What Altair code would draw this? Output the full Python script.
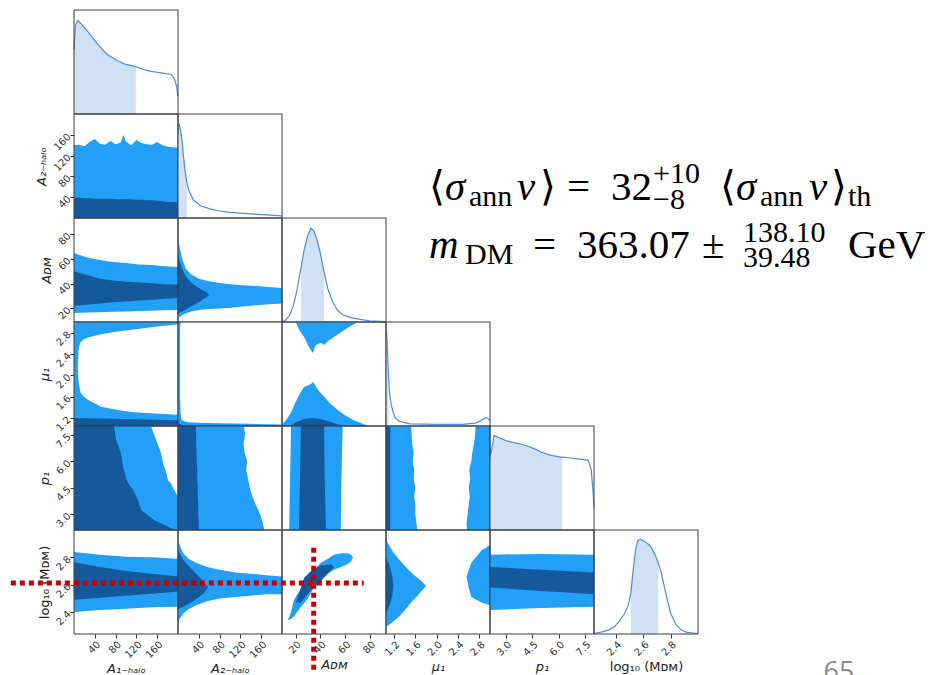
import altair as alt
import pandas as pd

PANEL = 104
LIGHT = "#22a0f8"
DARK = "#14599c"
PDF_LINE = "#4c8fdb"
PDF_FILL = "#d0e1f6"
FRAME = "#3c3c3c"
RED = "#c40000"

# ---------------- axis ranges / ticks ----------------
A1_DOMAIN = [0, 200]
A2_DOMAIN = [0, 200]
ADM_DOMAIN = [9, 93]
MU_DOMAIN = [1.05, 3.0]
P1_DOMAIN = [2.1, 8.0]
LOGM_DOMAIN = [2.24, 3.0]
A1_TICKS = [40, 80, 120, 160]
A2_TICKS = [40, 80, 120, 160]
ADM_TICKS = [20, 40, 60, 80]
MU_TICKS = [1.2, 1.6, 2.0, 2.4, 2.8]
P1_TICKS = [3.0, 4.5, 6.0, 7.5]
LOGM_TICKS = [2.4, 2.6, 2.8]

# ---------------- 1D marginals ----------------
A1_PDF_X = [0, 3, 7.7, 15, 27, 46, 62, 81, 98, 115, 119, 132, 148, 168, 187, 193, 197, 200]
A1_PDF_Y = [0.62, 0.86, 0.90, 0.86, 0.79, 0.67, 0.58, 0.52, 0.48, 0.46, 0.455, 0.43, 0.41, 0.395, 0.38, 0.34, 0.27, 0.17]
A1_BAND = [0, 119]
A2_PDF_X = [0, 1, 2.5, 5, 8, 10, 13, 17, 21, 30, 44, 60, 77, 100, 140, 170, 200]
A2_PDF_Y = [0.80, 0.91, 0.90, 0.84, 0.74, 0.62, 0.48, 0.34, 0.26, 0.17, 0.115, 0.09, 0.07, 0.055, 0.04, 0.03, 0.02]
A2_BAND = [0, 17]
ADM_PDF_X = [9, 12, 15, 18, 21, 24.3, 27, 30, 32.4, 34.5, 37, 40, 43, 46, 50, 54, 58, 65, 72, 80, 92]
ADM_PDF_Y = [0.0, 0.02, 0.06, 0.15, 0.30, 0.52, 0.70, 0.84, 0.90, 0.88, 0.80, 0.66, 0.48, 0.32, 0.19, 0.11, 0.07, 0.04, 0.025, 0.012, 0.005]
ADM_BAND = [24.3, 43]
MU_PDF_X = [1.05, 1.06, 1.08, 1.1, 1.12, 1.15, 1.18, 1.22, 1.3, 1.5, 2.0, 2.5, 2.75, 2.85, 2.92, 2.97, 3.0]
MU_PDF_Y = [0.90, 0.91, 0.70, 0.45, 0.30, 0.20, 0.14, 0.08, 0.045, 0.02, 0.015, 0.015, 0.03, 0.06, 0.08, 0.07, 0.05]
MU_BAND = [1.05, 1.1]
P1_PDF_X = [2.1, 2.16, 2.33, 2.6, 3.0, 3.46, 4.0, 4.5, 5.0, 5.5, 6.13, 6.2, 6.8, 7.3, 7.67, 7.84, 7.95, 8.0]
P1_PDF_Y = [0.70, 0.74, 0.91, 0.89, 0.86, 0.84, 0.82, 0.79, 0.75, 0.72, 0.70, 0.70, 0.69, 0.68, 0.67, 0.58, 0.36, 0.22]
P1_BAND = [2.1, 6.2]
LOGM_PDF_X = [2.24, 2.3, 2.35, 2.39, 2.43, 2.46, 2.49, 2.51, 2.525, 2.545, 2.56, 2.58, 2.61, 2.64, 2.66, 2.69, 2.71, 2.73, 2.76, 2.8, 2.84, 2.875, 2.92, 3.0]
LOGM_PDF_Y = [0.005, 0.02, 0.04, 0.07, 0.13, 0.19, 0.27, 0.40, 0.60, 0.82, 0.90, 0.91, 0.89, 0.86, 0.83, 0.75, 0.68, 0.60, 0.42, 0.20, 0.09, 0.04, 0.015, 0.005]
LOGM_BAND = [2.51, 2.71]

# ---------------- 2D credible regions ----------------
R2C1_X = [0, 10, 20, 30, 40, 50, 60, 70, 80, 90, 95, 100, 110, 120, 130, 140, 150, 160, 170, 180, 190, 200]
R2C1_LIGHT_HI = [140, 141, 138, 146, 152, 143, 141, 148, 142, 145, 160, 147, 140, 150, 144, 142, 141, 146, 140, 137, 136, 135]
R2C1_DARK_HI = [39, 39, 38, 38, 37, 37, 37, 37, 36, 36, 36, 36, 36, 35, 35, 34, 34, 33, 32, 31, 31, 30]

R3C1_X = [0, 25, 50, 75, 100, 125, 150, 175, 200]
R3C1_LIGHT_LO = [16.3, 16.6, 16.9, 17.2, 17.5, 17.8, 18.1, 18.4, 18.7]
R3C1_LIGHT_HI = [64.7, 61.0, 59.0, 57.5, 56.7, 55.5, 55.0, 54.0, 53.4]
R3C1_DARK_LO = [22.0, 23.0, 24.0, 25.0, 25.5, 26.3, 27.0, 27.8, 28.4]
R3C1_DARK_HI = [50.0, 47.0, 44.0, 42.5, 41.5, 41.0, 40.3, 39.5, 39.0]

R3C2_X = [0, 3, 8, 15, 25, 40, 60, 80, 100, 125, 150, 175, 200]
R3C2_LIGHT_LO = [12.0, 13.0, 14.5, 16.0, 17.5, 18.7, 19.5, 20.0, 20.5, 21.5, 22.5, 23.3, 24.0]
R3C2_LIGHT_HI = [78.0, 70.0, 60.0, 52.0, 47.5, 44.0, 42.0, 40.5, 39.5, 38.7, 38.0, 37.3, 36.5]
R3C2_DARK_X = [0, 3, 8, 15, 25, 40, 55, 60]
R3C2_DARK_LO = [16.0, 16.5, 17.5, 19.0, 21.5, 25.0, 29.0, 31.0]
R3C2_DARK_HI = [64.0, 58.0, 52.0, 46.0, 41.0, 36.5, 33.0, 31.0]

R4C1_HOLE_X = [7.5, 8.5, 10, 13, 19, 27, 52, 84, 115, 148, 200]
R4C1_HOLE_LO = [2.15, 1.9, 1.8, 1.67, 1.6, 1.54, 1.41, 1.35, 1.31, 1.29, 1.26]
R4C1_HOLE_HI = [2.2, 2.45, 2.55, 2.62, 2.67, 2.71, 2.77, 2.82, 2.86, 2.9, 2.96]
R4C1_DARK_X = [0, 100, 200]
R4C1_DARK_HI = [1.2, 1.18, 1.16]

R4C2_HOLE_X = [4, 5, 6, 8, 12, 20, 40, 80, 140, 200]
R4C2_HOLE_LO = [1.6, 1.3, 1.2, 1.16, 1.14, 1.12, 1.11, 1.1, 1.09, 1.08]
R4C2_HOLE_HI = [2.9, 2.97, 3.0, 3.0, 3.0, 3.0, 3.0, 3.0, 3.0, 3.0]
R4C2_DARK_X = [0, 3, 8, 15]
R4C2_DARK_HI = [1.1, 1.09, 1.07, 1.06]

R4C3_TOP_X = [20, 23, 26.8, 30.8, 33, 34, 35, 36.5, 40.5, 43, 47, 56.7, 64, 71]
R4C3_TOP_LO = [3.0, 2.85, 2.72, 2.53, 2.45, 2.42, 2.5, 2.57, 2.61, 2.57, 2.66, 2.81, 2.92, 3.0]
R4C3_BOT_X = [9, 12, 16, 20, 24.3, 26.8, 30.8, 32.5, 34, 36, 38, 43, 48, 54, 60, 67, 73, 78]
R4C3_BOT_HI = [1.08, 1.15, 1.29, 1.5, 1.69, 1.78, 1.82, 1.84, 1.88, 1.8, 1.73, 1.6, 1.47, 1.35, 1.25, 1.16, 1.1, 1.06]
R4C3_DARK_X = [16, 20, 26, 32.4, 40, 48, 56.7]
R4C3_DARK_HI = [1.06, 1.12, 1.17, 1.2, 1.18, 1.13, 1.06]

R5C1_Y = [2.1, 2.2, 2.67, 3.24, 3.8, 4.0, 4.4, 4.77, 4.9, 5.5, 5.7, 6.5, 7.2, 8.0]
R5C1_LIGHT_HI = [200, 200, 200, 200, 200, 200, 192, 186, 181, 176, 173, 167, 158, 148]
R5C1_DARK_HI = [192, 187, 154, 129, 123, 120, 113, 104, 102, 96, 94, 90, 81, 77]

R5C2_Y = [2.1, 2.5, 3.0, 3.5, 4.0, 4.5, 5.0, 5.5, 6.0, 6.5, 7.0, 7.5, 8.0]
R5C2_LIGHT_HI = [166, 163, 158, 150, 143, 138, 135, 131, 133, 128, 126, 129, 127]
R5C2_DARK_HI = [40, 40, 39, 39, 38, 38, 37, 37, 36, 36, 35, 35, 34]

R5C3_Y = [2.1, 5.0, 8.0]
R5C3_LIGHT_LO = [14.8, 15.5, 16.3]
R5C3_LIGHT_HI = [56.5, 57.0, 58.0]
R5C3_DARK_LO = [22.7, 23.5, 24.3]
R5C3_DARK_HI = [44.5, 43.5, 43.0]

R5C4_Y = [2.1, 2.5, 3.0, 3.5, 4.0, 4.5, 5.0, 5.5, 6.0, 6.5, 7.0, 7.5, 8.0]
R5C4_LEFT_HI = [1.64, 1.62, 1.60, 1.60, 1.58, 1.60, 1.57, 1.58, 1.55, 1.57, 1.54, 1.53, 1.52]
R5C4_DARK_HI = [1.13, 1.13, 1.13, 1.13, 1.13, 1.13, 1.13, 1.13, 1.13, 1.13, 1.13, 1.13, 1.13]
R5C4_RIGHT_LO = [2.57, 2.56, 2.58, 2.60, 2.62, 2.60, 2.63, 2.61, 2.65, 2.67, 2.70, 2.72, 2.73]

R6C1_X = [0, 50, 100, 150, 200]
R6C1_LIGHT_LO = [2.40, 2.415, 2.425, 2.435, 2.44]
R6C1_LIGHT_HI = [2.84, 2.82, 2.805, 2.80, 2.79]
R6C1_DARK_LO = [2.49, 2.505, 2.52, 2.535, 2.55]
R6C1_DARK_HI = [2.765, 2.73, 2.70, 2.68, 2.66]

R6C2_X = [0, 5, 10, 20, 35, 56, 80, 110, 140, 170, 200]
R6C2_LIGHT_LO = [2.33, 2.36, 2.39, 2.42, 2.45, 2.48, 2.50, 2.51, 2.52, 2.53, 2.53]
R6C2_LIGHT_HI = [2.93, 2.87, 2.83, 2.79, 2.76, 2.73, 2.71, 2.69, 2.68, 2.67, 2.66]
R6C2_DARK_X = [0, 10, 25, 40, 50, 58]
R6C2_DARK_LO = [2.42, 2.44, 2.47, 2.51, 2.54, 2.58]
R6C2_DARK_HI = [2.85, 2.78, 2.72, 2.66, 2.62, 2.58]

R6C3_X = [13.8, 16.3, 18.7, 24.3, 30, 34.8, 40.5, 46, 51, 56.7, 62, 64.7, 66.4]
R6C3_LIGHT_LO = [2.34, 2.35, 2.37, 2.44, 2.50, 2.58, 2.63, 2.68, 2.71, 2.73, 2.75, 2.77, 2.80]
R6C3_LIGHT_HI = [2.34, 2.40, 2.49, 2.57, 2.66, 2.71, 2.76, 2.79, 2.82, 2.83, 2.83, 2.82, 2.80]
R6C3_DARK_X = [20.3, 24.3, 26.8, 32.4, 38, 40.5, 48.6, 51]
R6C3_DARK_LO = [2.47, 2.47, 2.50, 2.56, 2.61, 2.63, 2.71, 2.73]
R6C3_DARK_HI = [2.47, 2.58, 2.65, 2.70, 2.73, 2.74, 2.75, 2.73]

R6C4_LEFT_Y = [2.29, 2.36, 2.42, 2.47, 2.51, 2.55, 2.59, 2.63, 2.67, 2.71, 2.77, 2.83, 2.88, 2.93]
R6C4_LEFT_HI = [1.05, 1.28, 1.42, 1.52, 1.62, 1.71, 1.80, 1.71, 1.58, 1.47, 1.33, 1.20, 1.12, 1.05]
R6C4_DARK_Y = [2.39, 2.45, 2.52, 2.60, 2.68, 2.75, 2.80]
R6C4_DARK_HI = [1.05, 1.12, 1.17, 1.19, 1.16, 1.11, 1.05]
R6C4_RIGHT_Y = [2.45, 2.47, 2.51, 2.58, 2.66, 2.76, 2.85, 2.89]
R6C4_RIGHT_LO = [3.0, 2.84, 2.65, 2.60, 2.56, 2.65, 2.84, 3.0]

R6C5_X = [2.1, 5.0, 8.0]
R6C5_LIGHT_LO = [2.415, 2.43, 2.44]
R6C5_LIGHT_HI = [2.82, 2.825, 2.82]
R6C5_DARK_LO = [2.58, 2.555, 2.53]
R6C5_DARK_HI = [2.73, 2.71, 2.69]

# best-fit marker (dotted red cross)
MARK_LOGM = 2.612
MARK_ADM = 34.6
RED_H_SPAN = [-210, 75]      # in A_DM units
RED_V_SPAN = [2.87, 1.96]    # in log10 M units

# ---------------- helpers ----------------
DOM = {"A1": A1_DOMAIN, "A2": A2_DOMAIN, "ADM": ADM_DOMAIN, "MU": MU_DOMAIN,
       "P1": P1_DOMAIN, "LOGM": LOGM_DOMAIN, "PDF": [0, 1.0]}
TICKS = {"A1": A1_TICKS, "A2": A2_TICKS, "ADM": ADM_TICKS, "MU": MU_TICKS,
         "P1": P1_TICKS, "LOGM": LOGM_TICKS}
FMT = {"A1": "d", "A2": "d", "ADM": "d", "MU": ".1f", "P1": ".1f", "LOGM": ".1f"}
TITLE = {"A1": "A₁₋ₕₐₗₒ", "A2": "A₂₋ₕₐₗₒ", "ADM": "Aᴅᴍ", "MU": "μ₁",
         "P1": "p₁", "LOGM": "log₁₀ (Mᴅᴍ)"}


def make_axis(v):
    return alt.Axis(title=TITLE[v], values=TICKS[v], format=FMT[v], labelAngle=-45,
                    grid=False, domain=False, tickSize=4, tickColor="#333333",
                    labelFont="DejaVu Sans", labelFontSize=10, labelColor="#333333",
                    labelPadding=1, titleFont="DejaVu Sans", titleFontSize=13,
                    titleFontWeight="normal", titlePadding=3,
                    titleFontStyle="normal" if v == "LOGM" else "italic",
                    titleColor="#222222")


AX = {v: make_axis(v) for v in TICKS}
ONE = pd.DataFrame({"k": [0]})


def sc(v):
    return alt.Scale(domain=DOM[v], nice=False, zero=False)


def xf(p, field):
    xv, yv, sx, sy = p
    return alt.X(field, type="quantitative", scale=sc(xv), axis=AX[xv] if sx else None)


def yf(p, field):
    xv, yv, sx, sy = p
    return alt.Y(field, type="quantitative", scale=sc(yv), axis=AX[yv] if sy else None)


def xd(p, val):
    xv, yv, sx, sy = p
    return alt.XDatum(val, type="quantitative", scale=sc(xv), axis=AX[xv] if sx else None)


def yd(p, val):
    xv, yv, sx, sy = p
    return alt.YDatum(val, type="quantitative", scale=sc(yv), axis=AX[yv] if sy else None)


def vband(p, xs, lo, hi, color):
    data = {"t": xs}
    if isinstance(hi, list):
        data["hi"] = hi
        main = "hi"
        other = alt.Y2("lo") if isinstance(lo, list) else alt.Y2Datum(lo)
        if isinstance(lo, list):
            data["lo"] = lo
    else:
        data["lo"] = lo
        main = "lo"
        other = alt.Y2Datum(hi)
    return alt.Chart(pd.DataFrame(data)).mark_area(color=color, opacity=1).encode(
        x=xf(p, "t"), y=yf(p, main), y2=other)


def hband(p, ys, lo, hi, color):
    data = {"t": ys}
    if isinstance(hi, list):
        data["hi"] = hi
        main = "hi"
        other = alt.X2("lo") if isinstance(lo, list) else alt.X2Datum(lo)
        if isinstance(lo, list):
            data["lo"] = lo
    else:
        data["lo"] = lo
        main = "lo"
        other = alt.X2Datum(hi)
    return alt.Chart(pd.DataFrame(data)).mark_area(color=color, opacity=1, orient="horizontal").encode(
        y=yf(p, "t"), x=xf(p, main), x2=other)


def rect(p, **kw):
    xv, yv, sx, sy = p
    return alt.Chart(ONE).mark_rect(**kw).encode(
        x=xd(p, DOM[xv][0]), x2=alt.X2Datum(DOM[xv][1]),
        y=yd(p, DOM[yv][0]), y2=alt.Y2Datum(DOM[yv][1]))


def frame(p):
    return rect(p, fillOpacity=0, stroke=FRAME, strokeWidth=1)


def panel(layers):
    return alt.layer(*layers).properties(width=PANEL, height=PANEL)


def pdf_panel(v, xs, ys, band, showx):
    p = (v, "PDF", showx, False)
    df = pd.DataFrame({"t": xs, "d": ys})
    area = alt.Chart(df).transform_filter(
        f"datum.t >= {band[0]} && datum.t <= {band[1]}"
    ).mark_area(color=PDF_FILL, opacity=1).encode(x=xf(p, "t"), y=yf(p, "d"), y2=alt.Y2Datum(0))
    line = alt.Chart(df).mark_line(color=PDF_LINE, strokeWidth=1.2).encode(x=xf(p, "t"), y=yf(p, "d"))
    return [area, line, frame(p)]


def blank():
    return alt.Chart(ONE).mark_point(opacity=0, size=0).encode(
        x=alt.value(50), y=alt.value(50)).properties(width=PANEL, height=PANEL)


def txt(s, x, y, size, italic=False, font="Liberation Serif", color="#000000", align="left"):
    return alt.Chart(ONE).mark_text(text=s, font=font, fontSize=size,
                                    fontStyle="italic" if italic else "normal",
                                    align=align, baseline="alphabetic", color=color).encode(
        x=alt.value(x), y=alt.value(y))


# ---------------- panels ----------------
cells = {}
cells[(0, 0)] = panel(pdf_panel("A1", A1_PDF_X, A1_PDF_Y, A1_BAND, False))
cells[(1, 1)] = panel(pdf_panel("A2", A2_PDF_X, A2_PDF_Y, A2_BAND, False))
cells[(2, 2)] = panel(pdf_panel("ADM", ADM_PDF_X, ADM_PDF_Y, ADM_BAND, False))
cells[(3, 3)] = panel(pdf_panel("MU", MU_PDF_X, MU_PDF_Y, MU_BAND, False))
cells[(4, 4)] = panel(pdf_panel("P1", P1_PDF_X, P1_PDF_Y, P1_BAND, False))

p = ("A1", "A2", False, True)
cells[(1, 0)] = panel([vband(p, R2C1_X, 0, R2C1_LIGHT_HI, LIGHT),
                       vband(p, R2C1_X, 0, R2C1_DARK_HI, DARK), frame(p)])

p = ("A1", "ADM", False, True)
cells[(2, 0)] = panel([vband(p, R3C1_X, R3C1_LIGHT_LO, R3C1_LIGHT_HI, LIGHT),
                       vband(p, R3C1_X, R3C1_DARK_LO, R3C1_DARK_HI, DARK), frame(p)])
p = ("A2", "ADM", False, False)
cells[(2, 1)] = panel([vband(p, R3C2_X, R3C2_LIGHT_LO, R3C2_LIGHT_HI, LIGHT),
                       vband(p, R3C2_DARK_X, R3C2_DARK_LO, R3C2_DARK_HI, DARK), frame(p)])

p = ("A1", "MU", False, True)
cells[(3, 0)] = panel([rect(p, color=LIGHT),
                       vband(p, R4C1_HOLE_X, R4C1_HOLE_LO, R4C1_HOLE_HI, "#ffffff"),
                       vband(p, R4C1_DARK_X, 1.05, R4C1_DARK_HI, DARK), frame(p)])
p = ("A2", "MU", False, False)
cells[(3, 1)] = panel([rect(p, color=LIGHT),
                       vband(p, R4C2_HOLE_X, R4C2_HOLE_LO, R4C2_HOLE_HI, "#ffffff"),
                       vband(p, R4C2_DARK_X, 1.05, R4C2_DARK_HI, DARK), frame(p)])
p = ("ADM", "MU", False, False)
cells[(3, 2)] = panel([vband(p, R4C3_TOP_X, R4C3_TOP_LO, 3.0, LIGHT),
                       vband(p, R4C3_BOT_X, 1.05, R4C3_BOT_HI, LIGHT),
                       vband(p, R4C3_DARK_X, 1.05, R4C3_DARK_HI, DARK), frame(p)])

p = ("A1", "P1", False, True)
cells[(4, 0)] = panel([hband(p, R5C1_Y, 0, R5C1_LIGHT_HI, LIGHT),
                       hband(p, R5C1_Y, 0, R5C1_DARK_HI, DARK), frame(p)])
p = ("A2", "P1", False, False)
cells[(4, 1)] = panel([hband(p, R5C2_Y, 0, R5C2_LIGHT_HI, LIGHT),
                       hband(p, R5C2_Y, 0, R5C2_DARK_HI, DARK), frame(p)])
p = ("ADM", "P1", False, False)
cells[(4, 2)] = panel([hband(p, R5C3_Y, R5C3_LIGHT_LO, R5C3_LIGHT_HI, LIGHT),
                       hband(p, R5C3_Y, R5C3_DARK_LO, R5C3_DARK_HI, DARK), frame(p)])
p = ("MU", "P1", False, False)
cells[(4, 3)] = panel([hband(p, R5C4_Y, 1.05, R5C4_LEFT_HI, LIGHT),
                       hband(p, R5C4_Y, 1.05, R5C4_DARK_HI, DARK),
                       hband(p, R5C4_Y, R5C4_RIGHT_LO, 3.0, LIGHT), frame(p)])

p = ("A1", "LOGM", True, True)
cells[(5, 0)] = panel([vband(p, R6C1_X, R6C1_LIGHT_LO, R6C1_LIGHT_HI, LIGHT),
                       vband(p, R6C1_X, R6C1_DARK_LO, R6C1_DARK_HI, DARK), frame(p)])
p = ("A2", "LOGM", True, False)
cells[(5, 1)] = panel([vband(p, R6C2_X, R6C2_LIGHT_LO, R6C2_LIGHT_HI, LIGHT),
                       vband(p, R6C2_DARK_X, R6C2_DARK_LO, R6C2_DARK_HI, DARK), frame(p)])
p = ("ADM", "LOGM", True, False)
red_h = alt.Chart(pd.DataFrame({"a": [RED_H_SPAN[0]], "b": [RED_H_SPAN[1]], "m": [MARK_LOGM]})).mark_rule(
    color=RED, strokeWidth=5, strokeDash=[5, 4]).encode(x=xf(p, "a"), x2=alt.X2("b"), y=yf(p, "m"))
red_v = alt.Chart(pd.DataFrame({"a": [RED_V_SPAN[0]], "b": [RED_V_SPAN[1]], "m": [MARK_ADM]})).mark_rule(
    color=RED, strokeWidth=5, strokeDash=[5, 4]).encode(y=yf(p, "a"), y2=alt.Y2("b"), x=xf(p, "m"))
cells[(5, 2)] = panel([vband(p, R6C3_X, R6C3_LIGHT_LO, R6C3_LIGHT_HI, LIGHT),
                       vband(p, R6C3_DARK_X, R6C3_DARK_LO, R6C3_DARK_HI, DARK), frame(p),
                       red_h, red_v])
p = ("MU", "LOGM", True, False)
cells[(5, 3)] = panel([hband(p, R6C4_LEFT_Y, 1.05, R6C4_LEFT_HI, LIGHT),
                       hband(p, R6C4_DARK_Y, 1.05, R6C4_DARK_HI, DARK),
                       hband(p, R6C4_RIGHT_Y, R6C4_RIGHT_LO, 3.0, LIGHT), frame(p)])
p = ("P1", "LOGM", True, False)
cells[(5, 4)] = panel([vband(p, R6C5_X, R6C5_LIGHT_LO, R6C5_LIGHT_HI, LIGHT),
                       vband(p, R6C5_X, R6C5_DARK_LO, R6C5_DARK_HI, DARK), frame(p)])
cells[(5, 5)] = panel(pdf_panel("LOGM", LOGM_PDF_X, LOGM_PDF_Y, LOGM_BAND, True)
                      + [txt("65", 245, 151, 27, font="Open Sans", color="#8c8c8c", align="center")])

# ---------------- annotation (formula) ----------------
OX, OY = 385, 113   # page position of the cell holding the annotation
MAIN, SCRIPT = 41, 30
FORMULA = [
    ("⟨", 428, 199, MAIN, False), ("σ", 444, 199, MAIN, True), ("ann", 468, 205, SCRIPT, False),
    ("v", 516, 199, MAIN, True), ("⟩", 539, 199, MAIN, False), ("=", 566, 199, MAIN, False),
    ("32", 610, 199, MAIN, False), ("+10", 652, 182, SCRIPT, False), ("−8", 652, 208, SCRIPT, False),
    ("⟨", 719, 199, MAIN, False), ("σ", 735, 199, MAIN, True), ("ann", 759, 205, SCRIPT, False),
    ("v", 808, 199, MAIN, True), ("⟩", 830, 199, MAIN, False), ("th", 847, 205, SCRIPT, False),
    ("m", 428, 257, MAIN, True), ("DM", 464, 263, SCRIPT, False), ("=", 532, 257, MAIN, False),
    ("363.07", 576, 257, MAIN, False), ("±", 701, 257, MAIN, False),
    ("138.10", 742, 241, SCRIPT, False), ("39.48", 742, 266, SCRIPT, False),
    ("GeV", 847, 257, MAIN, False),
]
formula_cell = alt.layer(blank(), *[txt(s, x - OX, y - OY, size, it) for s, x, y, size, it in FORMULA]).properties(
    width=PANEL, height=PANEL)

grid = []
for r in range(6):
    for c in range(6):
        if (r, c) in cells:
            grid.append(cells[(r, c)])
        elif (r, c) == (1, 3):
            grid.append(formula_cell)
        else:
            grid.append(blank())

chart = alt.concat(*grid, columns=6, spacing=0, bounds="flush").properties(
    padding={"left": 0, "top": 1, "right": 0, "bottom": 0}
).configure_view(stroke="transparent", strokeWidth=0)

chart.save("out.html", embed_options={"renderer": "svg", "actions": False})
